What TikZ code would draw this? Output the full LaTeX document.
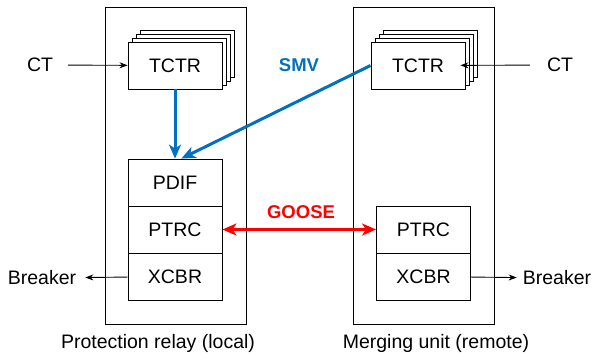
\documentclass[tikz,border=0pt]{standalone}
\usepackage{fontspec}
\setmainfont{Liberation Sans}
\usetikzlibrary{arrows.meta}
\definecolor{bleusmv}{RGB}{0,112,192}
\definecolor{rougegoose}{RGB}{255,0,0}

\begin{document}
\begin{tikzpicture}[x=1pt,y=-1pt]
\tikzset{texte/.style={font=\fontsize{19.5}{22}\selectfont, inner sep=0pt},
  boite/.style={draw, line width=0.9pt, minimum width=141pt, minimum height=317pt, inner sep=0pt},
  cellule/.style={draw, line width=0.9pt, fill=white, minimum width=94pt, minimum height=47pt, inner sep=0pt, font=\fontsize{19.5}{22}\selectfont},
  couche/.style={draw, line width=0.9pt, fill=white, minimum width=94pt, minimum height=47pt, inner sep=0pt},
  fleche/.style={-{Stealth[length=8pt, width=6pt]}, line width=0.9pt},
  flechesmv/.style={-{Stealth[length=14pt, width=12pt, inset=4pt]}, line width=3pt, bleusmv},
  flechegoose/.style={{Stealth[length=14pt, width=12pt, inset=4pt]}-{Stealth[length=14pt, width=12pt, inset=4pt]}, line width=3pt, rougegoose}}
\useasboundingbox (0,0) rectangle (592,360);
% outer boxes
\node[boite] (relais) at (175.5,165.5) {};
\node[boite] (mu) at (423.5,165.5) {};
% stacked TCTR
\node[couche] (cL3) at (187,53.5) {};
\node[couche] (cL2) at (183,57.5) {};
\node[couche] (cL1) at (179,61.5) {};
\node[cellule] (tctrL) at (175,65.5) {TCTR};
\node[couche] (cR3) at (430,53.5) {};
\node[couche] (cR2) at (426,57.5) {};
\node[couche] (cR1) at (422,61.5) {};
\node[cellule] (tctrR) at (418,65.5) {TCTR};
% logical nodes
\node[cellule] (pdifL) at (175,182.5) {PDIF};
\node[cellule] (ptrcL) at (175,229.5) {PTRC};
\node[cellule] (xcbrL) at (175,276.5) {XCBR};
\node[cellule] (ptrcR) at (423.5,229.5) {PTRC};
\node[cellule] (xcbrR) at (423.5,276.5) {XCBR};
% labels
\node[texte] (ctL) at (40,65) {CT};
\node[texte] (ctR) at (560,65) {CT};
\node[texte] (brkL) at (42,278) {Breaker};
\node[texte] (brkR) at (557,278) {Breaker};
\node[texte, text=bleusmv, font=\fontsize{18.5}{22}\selectfont\bfseries] (smv) at (299,65) {SMV};
\node[texte, text=rougegoose, font=\fontsize{18.5}{22}\selectfont\bfseries] (goose) at (301,212) {GOOSE};
\node[texte] (capL) at (158,343) {Protection relay (local)};
\node[texte] (capR) at (436,343) {Merging unit (remote)};
% connectors
\draw[fleche, shorten <=15pt] (ctL) -- (tctrL);
\draw[fleche, shorten <=17pt, shorten >=-5pt] (ctR) -- (tctrR);
\draw[fleche, shorten >=9pt] (xcbrL) -- (brkL);
\draw[fleche, shorten >=6pt] (xcbrR) -- (brkR);
\draw[flechesmv] (tctrL) -- (pdifL);
\draw[flechesmv] (tctrR.west) -- (pdifL.75);
\draw[flechegoose] (ptrcL) -- (ptrcR);
\end{tikzpicture}
\end{document}
